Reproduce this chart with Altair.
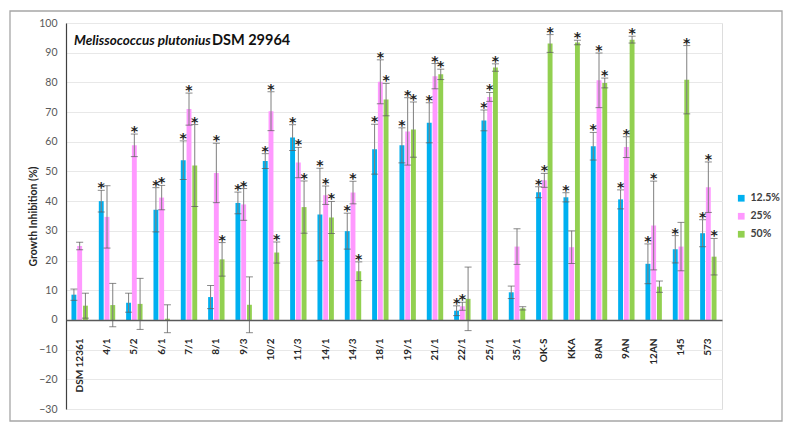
import altair as alt
import pandas as pd

categories = ["DSM 12361", "4/1", "5/2", "6/1", "7/1", "8/1", "9/3", "10/2", "11/3", "14/1",
              "14/3", "18/1", "19/1", "21/1", "22/1", "25/1", "35/1", "OK-S", "KKA", "8AN",
              "9AN", "12AN", "145", "573"]
series = ["12.5%", "25%", "50%"]
y_ticks = [-30, -20, -10, 0, 10, 20, 30, 40, 50, 60, 70, 80, 90, 100]

blue_vals = [8.5, 40.0, 5.8, 37.1, 53.8, 7.7, 39.4, 53.5, 61.4, 35.5, 29.9, 57.5, 58.8, 66.4,
             3.1, 67.2, 9.3, 43.0, 41.3, 58.5, 40.6, 18.9, 23.8, 29.2]
blue_err = [1.9, 3.65, 3.2, 7.45, 6.5, 3.9, 3.65, 2.5, 4.35, 15.6, 6.05, 8.4, 5.9, 6.75,
            1.65, 3.5, 2.1, 1.85, 1.55, 4.65, 3.2, 6.7, 4.6, 4.55]
blue_sig = [0, 1, 0, 1, 1, 0, 1, 1, 1, 1, 1, 1, 1, 1, 1, 1, 0, 1, 1, 1, 1, 1, 1, 1]

pink_vals = [24.9, 34.7, 58.8, 41.2, 71.0, 49.5, 38.9, 70.3, 53.0, 42.0, 42.9, 80.2, 63.5, 82.1,
             4.6, 75.1, 24.7, 47.0, 24.5, 80.7, 58.2, 31.8, 24.7, 44.7]
pink_err = [1.3, 10.5, 3.8, 4.1, 5.4, 10.0, 5.35, 6.55, 5.1, 3.1, 3.8, 7.4, 11.35, 4.25,
            1.35, 1.5, 6.0, 2.35, 5.5, 9.2, 3.5, 14.95, 8.15, 8.5]
pink_sig = [0, 0, 1, 1, 1, 1, 1, 1, 1, 1, 1, 1, 1, 1, 1, 1, 0, 1, 0, 1, 1, 1, 0, 1]

green_vals = [4.8, 5.0, 5.4, 0.4, 52.0, 20.4, 5.1, 22.7, 38.0, 34.5, 16.4, 74.2, 64.1, 82.7,
              7.1, 85.0, 3.9, 93.1, 93.4, 79.8, 94.4, 11.2, 80.9, 21.3]
green_err = [4.2, 7.3, 8.6, 4.7, 13.8, 5.65, 9.4, 3.55, 8.8, 5.4, 3.15, 5.45, 9.3, 1.75,
             10.7, 1.25, 0.55, 3.0, 0.75, 1.65, 1.15, 1.9, 11.5, 6.15]
green_sig = [0, 0, 0, 0, 1, 1, 0, 1, 1, 1, 1, 1, 1, 1, 0, 1, 0, 1, 1, 1, 1, 0, 1, 1]

colors = ["#00B0F0", "#FF99FF", "#92D050"]
title_species = ["Melissococcus plutonius"]
title_strain = ["DSM 29964"]
y_title = "Growth Inhibition (%)"

rows = []
for i, c in enumerate(categories):
    for s, vals, errs, sig in zip(series,
                                  [blue_vals, pink_vals, green_vals],
                                  [blue_err, pink_err, green_err],
                                  [blue_sig, pink_sig, green_sig]):
        rows.append(dict(cat=c, series=s, value=vals[i], lo=vals[i] - errs[i],
                         hi=vals[i] + errs[i], sig="*" if sig[i] else ""))
df = pd.DataFrame(rows)

W, H = 656, 386
ydom = [y_ticks[0], y_ticks[-1]]
zero_from_bottom = H * (0 - ydom[0]) / (ydom[1] - ydom[0])
FONT = "Lato"

yscale = alt.Scale(domain=ydom, nice=False, zero=False)
yaxis = alt.Axis(values=y_ticks, title=y_title, ticks=False,
                 domainColor="#404040", domainWidth=1.2, gridColor="#E8E8E8", gridWidth=1,
                 labelFont=FONT, labelFontSize=10.5, labelColor="#595959", labelPadding=9,
                 labelOverlap=False, labelBound=False, labelFlush=False,
                 titleFont=FONT, titleFontSize=10.5, titleFontWeight="bold",
                 titleColor="#262626", titlePadding=0)


def Y(field):
    return alt.Y(field, scale=yscale, axis=yaxis)


x = alt.X("cat:N", sort=categories, scale=alt.Scale(paddingInner=0.4),
          axis=alt.Axis(title=None, orient="bottom", offset=-zero_from_bottom, labelAngle=270,
                        labelPadding=18, ticks=False, domainColor="#595959",
                        domainWidth=1.5, labelFont=FONT, labelFontWeight="bold",
                        labelFontSize=10, labelColor="#262626", grid=False, zindex=1,
                        labelBound=False, labelOverlap=False))
xo = alt.XOffset("series:N", sort=series, scale=alt.Scale(paddingInner=0.15))

bars = alt.Chart(df).mark_bar().encode(
    x=x, xOffset=xo,
    y=Y("value:Q"),
    color=alt.Color("series:N", sort=series, scale=alt.Scale(domain=series, range=colors),
                    legend=alt.Legend(title=None, orient="none", legendX=670, legendY=170,
                                      symbolType="square", symbolSize=45,
                                      symbolStrokeWidth=0, labelFont=FONT,
                                      labelFontWeight="bold", labelFontSize=10.5,
                                      labelColor="#404040", rowPadding=7)),
)

rules = alt.Chart(df).mark_rule(color="#7F7F7F", strokeWidth=1).encode(
    x=x, xOffset=xo, y=Y("lo:Q"), y2="hi:Q")
cap_hi = alt.Chart(df).mark_tick(color="#595959", thickness=1, size=7).encode(
    x=x, xOffset=xo, y=Y("hi:Q"))
cap_lo = alt.Chart(df).mark_tick(color="#595959", thickness=1, size=7).encode(
    x=x, xOffset=xo, y=Y("lo:Q"))
stars = alt.Chart(df).mark_text(font="DejaVu Sans", fontWeight="bold", fontSize=14,
                                baseline="alphabetic", color="#222222", dy=2).encode(
    x=x, xOffset=xo, y=Y("hi:Q"), text="sig:N")

t1 = alt.Chart(pd.DataFrame({"t": title_species})).mark_text(
    font=FONT, fontWeight="bold", fontStyle="italic", fontSize=13.5, align="left",
    baseline="alphabetic", color="#111111").encode(
    text="t:N", x=alt.value(8), y=alt.value(22))
t2 = alt.Chart(pd.DataFrame({"t": title_strain})).mark_text(
    font=FONT, fontWeight="bold", fontSize=14.5, align="left",
    baseline="alphabetic", color="#111111").encode(
    text="t:N", x=alt.value(146), y=alt.value(22))

frame = alt.Chart(pd.DataFrame({"a": [0]})).mark_rect(
    fillOpacity=0, stroke="#A6A6A6", strokeWidth=1.3).encode(
    x=alt.value(-56), x2=alt.value(716), y=alt.value(-12), y2=alt.value(398))

chart = alt.layer(frame, bars, rules, cap_hi, cap_lo, stars, t1, t2).properties(
    width=W, height=H,
    autosize=alt.AutoSizeParams(type="none"),
    padding={"left": 58, "top": 15, "right": 63, "bottom": 13},
).configure_view(stroke=None).configure(background="white")

chart.save("out.html", embed_options={"renderer": "svg", "actions": False})
